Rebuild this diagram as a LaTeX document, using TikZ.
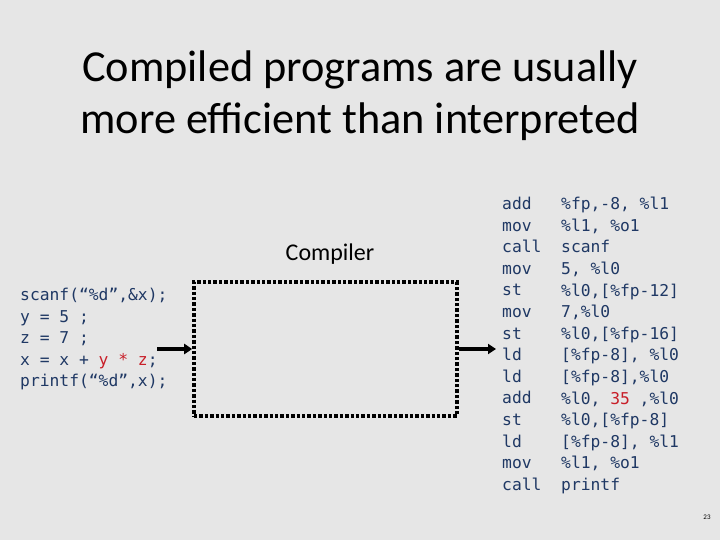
\documentclass[tikz,border=0pt]{standalone}
\usepackage{fontspec}
\setmainfont{Carlito}
\newfontfamily\codefont{DejaVu Sans Mono}
\usepackage{tikz}
\usetikzlibrary{arrows.meta,positioning,calc}
\definecolor{slidegray}{RGB}{230,230,230}
\definecolor{codeblue}{RGB}{31,56,100}
\definecolor{codered}{RGB}{200,30,40}

\tikzset{
  code/.style={font={\codefont\fontsize{16.3}{21.6}\selectfont}, text=codeblue,
               align=left, anchor=north west, inner sep=0pt},
  flow/.style={line width=4pt, -{Triangle[length=8pt,width=10pt]}}
}

\begin{document}
\begin{tikzpicture}[x=1pt,y=-1pt]
  \fill[slidegray] (0,0) rectangle (720,540);
  \useasboundingbox (0,0) rectangle (720,540);

  \node[font={\fontsize{44.3}{52}\selectfont}, align=center] (title) at (360,96)
    {Compiled programs are usually\\more efficient than interpreted};

  \node[draw, line width=3.6pt, dash pattern=on 3.4pt off 2pt,
        minimum width=263pt, minimum height=134pt, inner sep=0pt]
        (compiler) at (325.5,349) {};
  \node[font={\fontsize{24}{28}\selectfont}] (complabel) at (330,254) {Compiler};

  \node[code] (src) at (20,288)
    {scanf(“\%d”,\&x);\\
     y = 5 ;\\
     z = 7 ;\\
     x = x + \textcolor{codered}{y * z};\\
     printf(“\%d”,x);};

  \node[code] (asmop) at (502,197)
    {add\\ mov\\ call\\ mov\\ st\\ mov\\ st\\ ld\\ ld\\ add\\ st\\ ld\\ mov\\ call};
  \node[code] (asmarg) at (561,197)
    {\%fp,-8, \%l1\\
     \%l1, \%o1\\
     scanf\\
     5, \%l0\\
     \%l0,{[}\%fp-12]\\
     7,\%l0\\
     \%l0,{[}\%fp-16]\\
     {[}\%fp-8], \%l0\\
     {[}\%fp-8],\%l0\\
     \%l0, \textcolor{codered}{35} ,\%l0\\
     \%l0,{[}\%fp-8]\\
     {[}\%fp-8], \%l1\\
     \%l1, \%o1\\
     printf};

  \coordinate (srcend) at (157,349);
  \coordinate (asmend) at (496,349);
  \draw[flow] (srcend) -- (compiler.west);
  \draw[flow] (compiler.east) -- (asmend);

  \node[font={\fontsize{7}{8}\selectfont}] (pagenum) at (707,517) {23};
\end{tikzpicture}
\end{document}
